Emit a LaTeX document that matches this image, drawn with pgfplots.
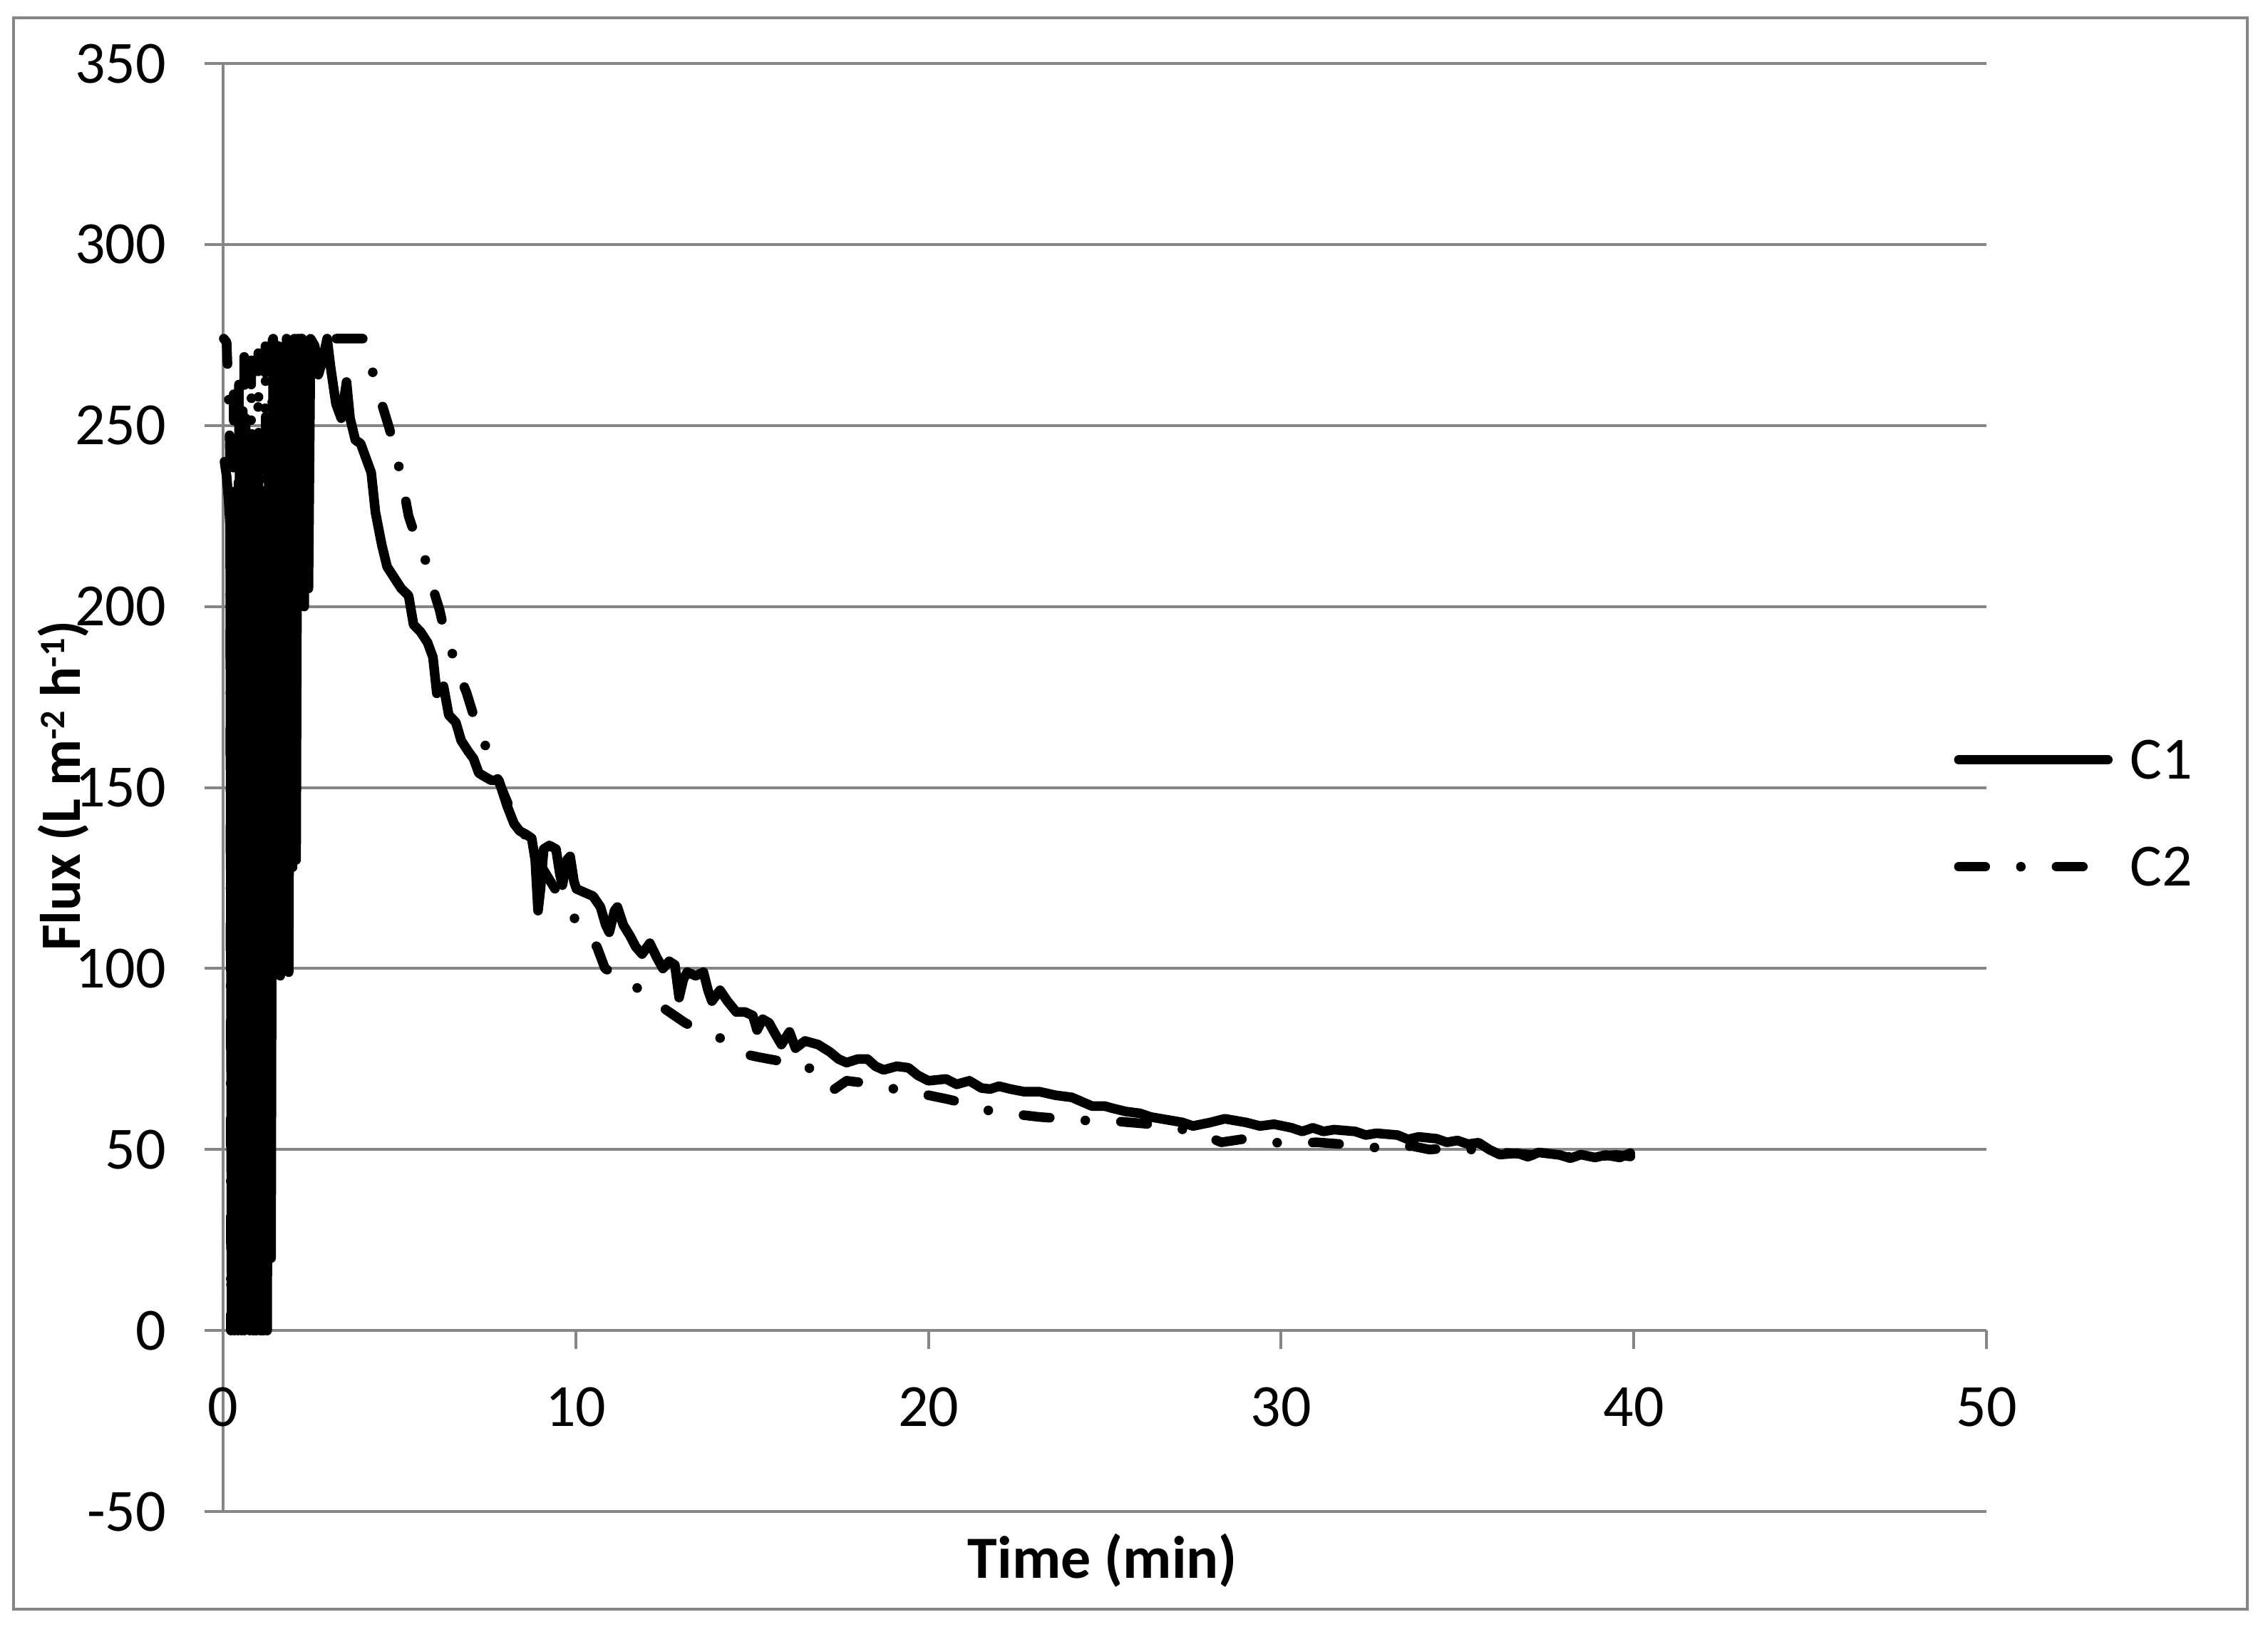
\documentclass[border=0pt]{standalone}
\usepackage{fontspec}
\setmainfont{Carlito}
\usepackage{pgfplots}
\pgfplotsset{compat=1.18}
\definecolor{gridgray}{RGB}{134,134,134}
\newcommand{\sups}[1]{\raisebox{2.2pt}{\fontsize{5pt}{6pt}\selectfont #1}}

\begin{document}
\begin{tikzpicture}[font=\fontsize{8.4pt}{10pt}\selectfont]
\useasboundingbox (0,0) rectangle (318.2pt,228.8pt);
\draw[gridgray, line width=0.4pt] (1.9pt,3.1pt) rectangle (315.3pt,226.3pt);
\begin{axis}[
  at={(31.3pt,16.8pt)}, anchor=south west,
  scale only axis, width=247.4pt, height=203.1pt,
  xmin=0, xmax=50, ymin=-50, ymax=350,
  xtick={0,10,...,50}, ytick={-50,0,...,350},
  axis x line=middle, axis y line=left,
  hide obscured x ticks=false, hide obscured y ticks=false,
  every inner x axis line/.append style={-},
  every inner y axis line/.append style={-},
  every outer x axis line/.append style={-},
  every outer y axis line/.append style={-},
  axis line style={draw=gridgray, line width=0.4pt},
  tick align=outside, major tick length=2.6pt,
  tick style={draw=gridgray, line width=0.4pt},
  ymajorgrids, grid style={draw=gridgray, line width=0.4pt},
  /pgf/number format/assume math mode=true,
  yticklabel style={anchor=east, inner sep=0pt, xshift=-5.2pt},
  xticklabel style={anchor=north, inner sep=0pt, yshift=-5.2pt},
  xlabel={\bfseries Time (min)},
  ylabel={\fontsize{8pt}{10pt}\selectfont\bfseries Flux (L m\sups{-2} h\sups{-1})},
  xlabel style={at={(axis description cs:0.4988,-0.0458)}, anchor=base, inner sep=0pt},
  ylabel style={at={(axis description cs:-0.0812,0.5012)}, anchor=base, inner sep=0pt},
  clip=false,
  legend cell align=left,
  legend style={draw=none, fill=none, inner sep=0pt, column sep=2.45pt, row sep=9.7pt,
    at={(axis description cs:0.9808,0.5332)}, anchor=north west,
    nodes={anchor=base west, inner sep=0pt, text height=5.3pt, text depth=0pt}},
  legend image code/.code={\draw[#1] (0pt,2.65pt) -- (20.9pt,2.65pt);},
]
% C1
\addplot[black, line width=1.35pt, line cap=round, line join=round] coordinates {
(0.04,240) (0.1,236) (0.16,229) (0.2,222) (0.24,2) (0.28,226) (0.32,0) (0.37,232)
(0.42,0) (0.47,245) (0.52,0) (0.56,254) (0.6,0) (0.64,252) (0.68,1) (0.72,240)
(0.76,0) (0.8,238) (0.85,0) (0.9,238) (0.95,0) (1.0,236) (1.05,0) (1.1,232)
(1.15,0) (1.2,228) (1.25,0) (1.3,250) (1.36,20) (1.42,274) (1.5,100) (1.56,272)
(1.62,98) (1.68,270) (1.74,100) (1.8,274) (1.86,99) (1.92,270) (1.97,128) (2.02,274)
(2.07,130) (2.12,274) (2.18,205) (2.24,274) (2.3,200) (2.36,270) (2.42,205) (2.48,274)
(2.6,272) (2.7,264) (2.82,268) (2.95,274) (3.05,266) (3.2,256) (3.35,252) (3.5,262)
(3.6,252) (3.75,246) (3.9,245) (4.05,241) (4.2,237) (4.32,226) (4.5,217) (4.65,211)
(4.85,208) (5.05,205) (5.26,203) (5.4,195) (5.6,193) (5.8,190) (5.95,186) (6.06,176)
(6.25,178) (6.4,170) (6.6,168) (6.75,163) (6.95,160) (7.1,158) (7.25,154) (7.42,153)
(7.6,152) (7.82,152) (7.95,148) (8.05,145) (8.25,140) (8.41,138) (8.6,137) (8.75,136)
(8.85,130) (8.93,116) (9.0,122) (9.09,133) (9.25,134) (9.44,133) (9.55,126) (9.62,123)
(9.75,130) (9.84,131) (9.95,124) (10.02,122) (10.25,121) (10.49,120) (10.7,117) (10.85,112)
(10.95,110) (11.1,116) (11.18,117) (11.35,112) (11.54,109) (11.7,106) (11.88,104) (12.1,107)
(12.3,103) (12.47,100) (12.65,102) (12.81,101) (12.93,92) (13.05,97) (13.16,99) (13.4,98)
(13.62,99) (13.75,94) (13.86,91) (14.09,94) (14.3,91) (14.55,88) (14.8,88) (15.02,87)
(15.14,83) (15.3,86) (15.48,85) (15.65,82) (15.83,79) (16.06,82.5) (16.23,78) (16.5,80)
(16.87,79) (17.2,77) (17.45,75) (17.68,74) (18.0,75) (18.27,75) (18.5,73) (18.73,72)
(19.1,73) (19.43,72.6) (19.7,70.5) (20.0,69) (20.5,69.5) (20.8,68) (21.16,69) (21.5,67)
(21.75,66.7) (22.0,67.5) (22.33,66.7) (22.7,66) (23.14,66) (23.6,65) (24.07,64.4) (24.4,63)
(24.64,62) (25.0,62) (25.22,61.4) (25.6,60.5) (26.0,60) (26.3,59) (26.9,58) (27.2,57.5)
(27.5,56.5) (28.0,57.5) (28.4,58.5) (29.0,57.5) (29.4,56.5) (29.8,57) (30.3,56) (30.6,55)
(30.9,56) (31.2,55) (31.5,55.5) (32.1,55) (32.4,54) (32.7,54.5) (33.3,54) (33.6,52.8)
(33.9,53.5) (34.4,53) (34.7,52) (35.0,52.5) (35.3,51.5) (35.6,51.9) (35.9,50) (36.2,48.6)
(36.7,49) (37.0,48) (37.3,49.2) (37.9,48.5) (38.2,47.6) (38.5,48.6) (38.9,47.8) (39.2,48.5)
(39.6,47.8) (39.9,49)
};
\addlegendentry{C1}
% C2
\addplot[black, line width=1.35pt, line cap=round, line join=round,
  dash pattern=on 3.7pt off 5pt on 0pt off 5pt] coordinates {
(0.02,274) (0.1,273) (0.16,258) (0.2,240) (0.22,0) (0.3,262) (0.36,0) (0.45,266)
(0.52,0) (0.6,270) (0.7,0) (0.8,268) (0.9,0) (1.0,270) (1.1,0) (1.2,272)
(1.3,30) (1.4,274) (1.6,110) (1.8,274) (2.0,150) (2.2,274) (2.5,274) (3.0,274)
(3.5,274) (3.98,274) (4.15,268) (4.32,262) (4.5,256) (4.72,249) (4.9,242) (5.05,236)
(5.26,225) (5.5,218) (5.73,213) (5.95,205) (6.14,199) (6.35,190) (6.55,186) (6.75,180)
(6.91,176) (7.1,170) (7.35,164) (7.6,157) (7.8,152) (8.1,145) (8.5,138) (8.8,132)
(9.1,127) (9.35,123) (9.6,119) (9.85,115) (10.15,112) (10.4,108) (10.6,106) (10.83,100)
(11.2,98) (11.56,96.5) (11.9,93) (12.2,91) (12.5,89) (12.8,87) (13.1,85) (13.5,83)
(13.9,81.5) (14.31,80) (14.55,78) (14.77,76.4) (15.2,75.5) (15.7,74.6) (16.17,72) (16.6,72.5)
(16.98,72) (17.34,66.7) (17.68,69) (18.1,68.5) (18.6,67.7) (19.0,66.8) (19.43,66) (20.0,65)
(20.5,64) (20.94,63) (21.4,62) (21.75,60.6) (22.2,60.2) (22.7,59.5) (23.14,59) (23.83,58.5)
(24.5,58) (25.1,58) (25.7,57.5) (26.3,57) (27.0,56) (27.7,54.5) (28.3,52) (29.0,53)
(29.6,52) (30.4,51.7) (31.0,52) (31.7,51.5) (32.3,51) (33.1,50) (33.7,51) (34.2,50)
(35.0,50.5) (35.8,49.5) (36.5,49) (37.2,48.5) (38.0,48) (38.8,48) (39.5,48.5) (40.0,48)
};
\addlegendentry{C2}
\end{axis}
\end{tikzpicture}
\end{document}
